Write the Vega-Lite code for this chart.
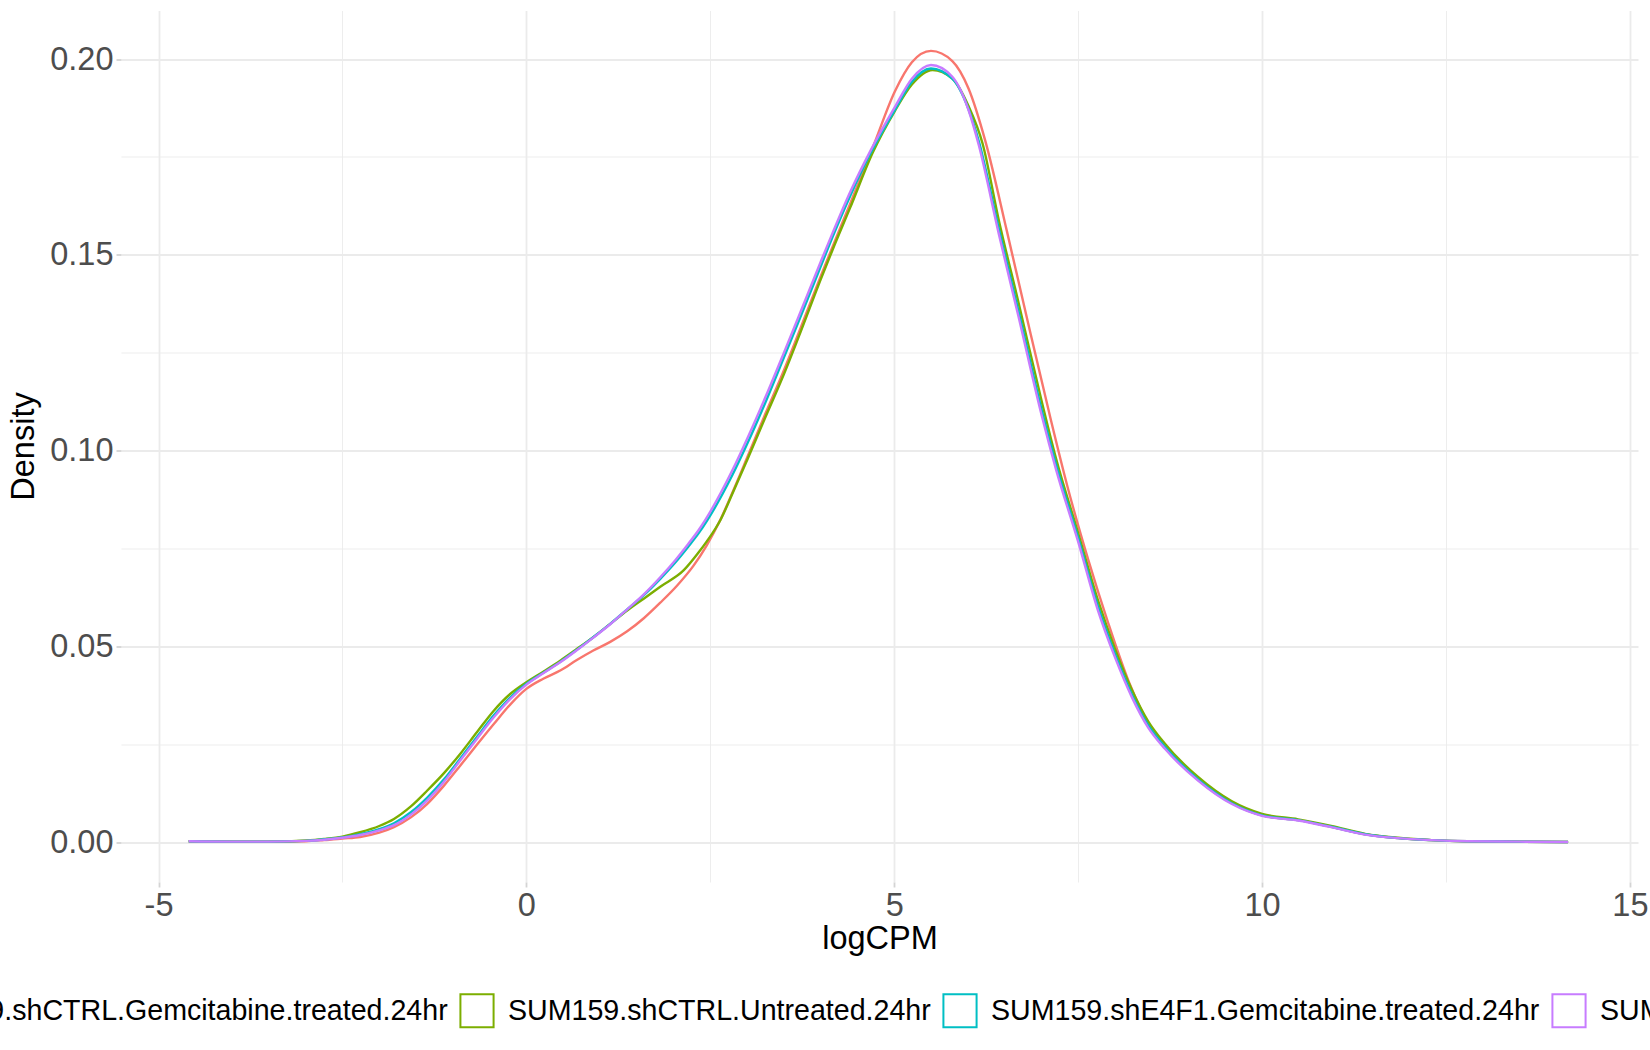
{
  "$schema": "https://vega.github.io/schema/vega-lite/v6.json",
  "width": 1517,
  "height": 871.5,
  "autosize": {"type": "none"},
  "padding": {"left": 121, "top": 10.5, "right": 12, "bottom": 168},
  "background": "white",
  "config": {
    "view": {"stroke": null},
    "font": "Liberation Sans"
  },
  "data": {
    "values": [
      {"sample": "SUM159.shCTRL.Gemcitabine.treated.24hr", "logCPM": -4.59, "density": 0.0003},
      {"sample": "SUM159.shCTRL.Gemcitabine.treated.24hr", "logCPM": -4.0, "density": 0.0002},
      {"sample": "SUM159.shCTRL.Gemcitabine.treated.24hr", "logCPM": -3.5, "density": 0.0002},
      {"sample": "SUM159.shCTRL.Gemcitabine.treated.24hr", "logCPM": -3.0, "density": 0.0003},
      {"sample": "SUM159.shCTRL.Gemcitabine.treated.24hr", "logCPM": -2.75, "density": 0.0006},
      {"sample": "SUM159.shCTRL.Gemcitabine.treated.24hr", "logCPM": -2.5, "density": 0.0010},
      {"sample": "SUM159.shCTRL.Gemcitabine.treated.24hr", "logCPM": -2.26, "density": 0.0014},
      {"sample": "SUM159.shCTRL.Gemcitabine.treated.24hr", "logCPM": -2.0, "density": 0.0025},
      {"sample": "SUM159.shCTRL.Gemcitabine.treated.24hr", "logCPM": -1.8, "density": 0.0039},
      {"sample": "SUM159.shCTRL.Gemcitabine.treated.24hr", "logCPM": -1.57, "density": 0.0064},
      {"sample": "SUM159.shCTRL.Gemcitabine.treated.24hr", "logCPM": -1.35, "density": 0.0098},
      {"sample": "SUM159.shCTRL.Gemcitabine.treated.24hr", "logCPM": -1.12, "density": 0.0145},
      {"sample": "SUM159.shCTRL.Gemcitabine.treated.24hr", "logCPM": -0.9, "density": 0.0196},
      {"sample": "SUM159.shCTRL.Gemcitabine.treated.24hr", "logCPM": -0.67, "density": 0.0250},
      {"sample": "SUM159.shCTRL.Gemcitabine.treated.24hr", "logCPM": -0.44, "density": 0.0303},
      {"sample": "SUM159.shCTRL.Gemcitabine.treated.24hr", "logCPM": -0.22, "density": 0.0352},
      {"sample": "SUM159.shCTRL.Gemcitabine.treated.24hr", "logCPM": 0.0, "density": 0.0392},
      {"sample": "SUM159.shCTRL.Gemcitabine.treated.24hr", "logCPM": 0.23, "density": 0.0418},
      {"sample": "SUM159.shCTRL.Gemcitabine.treated.24hr", "logCPM": 0.46, "density": 0.0439},
      {"sample": "SUM159.shCTRL.Gemcitabine.treated.24hr", "logCPM": 0.68, "density": 0.0465},
      {"sample": "SUM159.shCTRL.Gemcitabine.treated.24hr", "logCPM": 0.91, "density": 0.0490},
      {"sample": "SUM159.shCTRL.Gemcitabine.treated.24hr", "logCPM": 1.14, "density": 0.0512},
      {"sample": "SUM159.shCTRL.Gemcitabine.treated.24hr", "logCPM": 1.37, "density": 0.0539},
      {"sample": "SUM159.shCTRL.Gemcitabine.treated.24hr", "logCPM": 1.6, "density": 0.0573},
      {"sample": "SUM159.shCTRL.Gemcitabine.treated.24hr", "logCPM": 1.82, "density": 0.0612},
      {"sample": "SUM159.shCTRL.Gemcitabine.treated.24hr", "logCPM": 2.05, "density": 0.0656},
      {"sample": "SUM159.shCTRL.Gemcitabine.treated.24hr", "logCPM": 2.27, "density": 0.0706},
      {"sample": "SUM159.shCTRL.Gemcitabine.treated.24hr", "logCPM": 2.45, "density": 0.0758},
      {"sample": "SUM159.shCTRL.Gemcitabine.treated.24hr", "logCPM": 2.64, "density": 0.0825},
      {"sample": "SUM159.shCTRL.Gemcitabine.treated.24hr", "logCPM": 2.8, "density": 0.0893},
      {"sample": "SUM159.shCTRL.Gemcitabine.treated.24hr", "logCPM": 3.0, "density": 0.0982},
      {"sample": "SUM159.shCTRL.Gemcitabine.treated.24hr", "logCPM": 3.25, "density": 0.1095},
      {"sample": "SUM159.shCTRL.Gemcitabine.treated.24hr", "logCPM": 3.5, "density": 0.1205},
      {"sample": "SUM159.shCTRL.Gemcitabine.treated.24hr", "logCPM": 3.7, "density": 0.1300},
      {"sample": "SUM159.shCTRL.Gemcitabine.treated.24hr", "logCPM": 4.0, "density": 0.1445},
      {"sample": "SUM159.shCTRL.Gemcitabine.treated.24hr", "logCPM": 4.16, "density": 0.1520},
      {"sample": "SUM159.shCTRL.Gemcitabine.treated.24hr", "logCPM": 4.4, "density": 0.1630},
      {"sample": "SUM159.shCTRL.Gemcitabine.treated.24hr", "logCPM": 4.72, "density": 0.1780},
      {"sample": "SUM159.shCTRL.Gemcitabine.treated.24hr", "logCPM": 5.01, "density": 0.1918},
      {"sample": "SUM159.shCTRL.Gemcitabine.treated.24hr", "logCPM": 5.24, "density": 0.1992},
      {"sample": "SUM159.shCTRL.Gemcitabine.treated.24hr", "logCPM": 5.5, "density": 0.2021},
      {"sample": "SUM159.shCTRL.Gemcitabine.treated.24hr", "logCPM": 5.79, "density": 0.1995},
      {"sample": "SUM159.shCTRL.Gemcitabine.treated.24hr", "logCPM": 6.01, "density": 0.1925},
      {"sample": "SUM159.shCTRL.Gemcitabine.treated.24hr", "logCPM": 6.24, "density": 0.1790},
      {"sample": "SUM159.shCTRL.Gemcitabine.treated.24hr", "logCPM": 6.53, "density": 0.1562},
      {"sample": "SUM159.shCTRL.Gemcitabine.treated.24hr", "logCPM": 6.8, "density": 0.1342},
      {"sample": "SUM159.shCTRL.Gemcitabine.treated.24hr", "logCPM": 7.12, "density": 0.1086},
      {"sample": "SUM159.shCTRL.Gemcitabine.treated.24hr", "logCPM": 7.35, "density": 0.0912},
      {"sample": "SUM159.shCTRL.Gemcitabine.treated.24hr", "logCPM": 7.64, "density": 0.0720},
      {"sample": "SUM159.shCTRL.Gemcitabine.treated.24hr", "logCPM": 7.9, "density": 0.0565},
      {"sample": "SUM159.shCTRL.Gemcitabine.treated.24hr", "logCPM": 8.2, "density": 0.0405},
      {"sample": "SUM159.shCTRL.Gemcitabine.treated.24hr", "logCPM": 8.45, "density": 0.0305},
      {"sample": "SUM159.shCTRL.Gemcitabine.treated.24hr", "logCPM": 8.68, "density": 0.0246},
      {"sample": "SUM159.shCTRL.Gemcitabine.treated.24hr", "logCPM": 9.13, "density": 0.0160},
      {"sample": "SUM159.shCTRL.Gemcitabine.treated.24hr", "logCPM": 9.59, "density": 0.0100},
      {"sample": "SUM159.shCTRL.Gemcitabine.treated.24hr", "logCPM": 10.0, "density": 0.0069},
      {"sample": "SUM159.shCTRL.Gemcitabine.treated.24hr", "logCPM": 10.49, "density": 0.0057},
      {"sample": "SUM159.shCTRL.Gemcitabine.treated.24hr", "logCPM": 10.94, "density": 0.0040},
      {"sample": "SUM159.shCTRL.Gemcitabine.treated.24hr", "logCPM": 11.4, "density": 0.0021},
      {"sample": "SUM159.shCTRL.Gemcitabine.treated.24hr", "logCPM": 11.85, "density": 0.0011},
      {"sample": "SUM159.shCTRL.Gemcitabine.treated.24hr", "logCPM": 12.3, "density": 0.0006},
      {"sample": "SUM159.shCTRL.Gemcitabine.treated.24hr", "logCPM": 12.8, "density": 0.0003},
      {"sample": "SUM159.shCTRL.Gemcitabine.treated.24hr", "logCPM": 13.5, "density": 0.0002},
      {"sample": "SUM159.shCTRL.Gemcitabine.treated.24hr", "logCPM": 14.16, "density": 0.0001},

      {"sample": "SUM159.shCTRL.Untreated.24hr", "logCPM": -4.59, "density": 0.0003},
      {"sample": "SUM159.shCTRL.Untreated.24hr", "logCPM": -4.0, "density": 0.0002},
      {"sample": "SUM159.shCTRL.Untreated.24hr", "logCPM": -3.5, "density": 0.0002},
      {"sample": "SUM159.shCTRL.Untreated.24hr", "logCPM": -3.0, "density": 0.0005},
      {"sample": "SUM159.shCTRL.Untreated.24hr", "logCPM": -2.75, "density": 0.0009},
      {"sample": "SUM159.shCTRL.Untreated.24hr", "logCPM": -2.5, "density": 0.0015},
      {"sample": "SUM159.shCTRL.Untreated.24hr", "logCPM": -2.26, "density": 0.0026},
      {"sample": "SUM159.shCTRL.Untreated.24hr", "logCPM": -2.0, "density": 0.0042},
      {"sample": "SUM159.shCTRL.Untreated.24hr", "logCPM": -1.8, "density": 0.0060},
      {"sample": "SUM159.shCTRL.Untreated.24hr", "logCPM": -1.57, "density": 0.0092},
      {"sample": "SUM159.shCTRL.Untreated.24hr", "logCPM": -1.35, "density": 0.0132},
      {"sample": "SUM159.shCTRL.Untreated.24hr", "logCPM": -1.12, "density": 0.0177},
      {"sample": "SUM159.shCTRL.Untreated.24hr", "logCPM": -0.9, "density": 0.0226},
      {"sample": "SUM159.shCTRL.Untreated.24hr", "logCPM": -0.67, "density": 0.0282},
      {"sample": "SUM159.shCTRL.Untreated.24hr", "logCPM": -0.44, "density": 0.0337},
      {"sample": "SUM159.shCTRL.Untreated.24hr", "logCPM": -0.22, "density": 0.0379},
      {"sample": "SUM159.shCTRL.Untreated.24hr", "logCPM": 0.0, "density": 0.0409},
      {"sample": "SUM159.shCTRL.Untreated.24hr", "logCPM": 0.23, "density": 0.0436},
      {"sample": "SUM159.shCTRL.Untreated.24hr", "logCPM": 0.46, "density": 0.0464},
      {"sample": "SUM159.shCTRL.Untreated.24hr", "logCPM": 0.68, "density": 0.0493},
      {"sample": "SUM159.shCTRL.Untreated.24hr", "logCPM": 0.91, "density": 0.0524},
      {"sample": "SUM159.shCTRL.Untreated.24hr", "logCPM": 1.14, "density": 0.0558},
      {"sample": "SUM159.shCTRL.Untreated.24hr", "logCPM": 1.37, "density": 0.0592},
      {"sample": "SUM159.shCTRL.Untreated.24hr", "logCPM": 1.6, "density": 0.0623},
      {"sample": "SUM159.shCTRL.Untreated.24hr", "logCPM": 1.82, "density": 0.0653},
      {"sample": "SUM159.shCTRL.Untreated.24hr", "logCPM": 2.14, "density": 0.0695},
      {"sample": "SUM159.shCTRL.Untreated.24hr", "logCPM": 2.34, "density": 0.0740},
      {"sample": "SUM159.shCTRL.Untreated.24hr", "logCPM": 2.45, "density": 0.0768},
      {"sample": "SUM159.shCTRL.Untreated.24hr", "logCPM": 2.64, "density": 0.0824},
      {"sample": "SUM159.shCTRL.Untreated.24hr", "logCPM": 2.8, "density": 0.0890},
      {"sample": "SUM159.shCTRL.Untreated.24hr", "logCPM": 3.0, "density": 0.0976},
      {"sample": "SUM159.shCTRL.Untreated.24hr", "logCPM": 3.25, "density": 0.1086},
      {"sample": "SUM159.shCTRL.Untreated.24hr", "logCPM": 3.5, "density": 0.1195},
      {"sample": "SUM159.shCTRL.Untreated.24hr", "logCPM": 3.7, "density": 0.1290},
      {"sample": "SUM159.shCTRL.Untreated.24hr", "logCPM": 4.0, "density": 0.1437},
      {"sample": "SUM159.shCTRL.Untreated.24hr", "logCPM": 4.16, "density": 0.1512},
      {"sample": "SUM159.shCTRL.Untreated.24hr", "logCPM": 4.4, "density": 0.1620},
      {"sample": "SUM159.shCTRL.Untreated.24hr", "logCPM": 4.71, "density": 0.1762},
      {"sample": "SUM159.shCTRL.Untreated.24hr", "logCPM": 5.01, "density": 0.1868},
      {"sample": "SUM159.shCTRL.Untreated.24hr", "logCPM": 5.24, "density": 0.1935},
      {"sample": "SUM159.shCTRL.Untreated.24hr", "logCPM": 5.52, "density": 0.1972},
      {"sample": "SUM159.shCTRL.Untreated.24hr", "logCPM": 5.79, "density": 0.1950},
      {"sample": "SUM159.shCTRL.Untreated.24hr", "logCPM": 6.01, "density": 0.1880},
      {"sample": "SUM159.shCTRL.Untreated.24hr", "logCPM": 6.2, "density": 0.1785},
      {"sample": "SUM159.shCTRL.Untreated.24hr", "logCPM": 6.42, "density": 0.1590},
      {"sample": "SUM159.shCTRL.Untreated.24hr", "logCPM": 6.69, "density": 0.1378},
      {"sample": "SUM159.shCTRL.Untreated.24hr", "logCPM": 7.01, "density": 0.1122},
      {"sample": "SUM159.shCTRL.Untreated.24hr", "logCPM": 7.2, "density": 0.0980},
      {"sample": "SUM159.shCTRL.Untreated.24hr", "logCPM": 7.5, "density": 0.0790},
      {"sample": "SUM159.shCTRL.Untreated.24hr", "logCPM": 7.77, "density": 0.0618},
      {"sample": "SUM159.shCTRL.Untreated.24hr", "logCPM": 8.0, "density": 0.0495},
      {"sample": "SUM159.shCTRL.Untreated.24hr", "logCPM": 8.23, "density": 0.0390},
      {"sample": "SUM159.shCTRL.Untreated.24hr", "logCPM": 8.45, "density": 0.0310},
      {"sample": "SUM159.shCTRL.Untreated.24hr", "logCPM": 8.68, "density": 0.0252},
      {"sample": "SUM159.shCTRL.Untreated.24hr", "logCPM": 9.13, "density": 0.0167},
      {"sample": "SUM159.shCTRL.Untreated.24hr", "logCPM": 9.59, "density": 0.0105},
      {"sample": "SUM159.shCTRL.Untreated.24hr", "logCPM": 10.0, "density": 0.0073},
      {"sample": "SUM159.shCTRL.Untreated.24hr", "logCPM": 10.49, "density": 0.0059},
      {"sample": "SUM159.shCTRL.Untreated.24hr", "logCPM": 10.94, "density": 0.0042},
      {"sample": "SUM159.shCTRL.Untreated.24hr", "logCPM": 11.4, "density": 0.0022},
      {"sample": "SUM159.shCTRL.Untreated.24hr", "logCPM": 11.85, "density": 0.0012},
      {"sample": "SUM159.shCTRL.Untreated.24hr", "logCPM": 12.3, "density": 0.0006},
      {"sample": "SUM159.shCTRL.Untreated.24hr", "logCPM": 12.8, "density": 0.0003},
      {"sample": "SUM159.shCTRL.Untreated.24hr", "logCPM": 13.5, "density": 0.0002},
      {"sample": "SUM159.shCTRL.Untreated.24hr", "logCPM": 14.16, "density": 0.0001},

      {"sample": "SUM159.shE4F1.Gemcitabine.treated.24hr", "logCPM": -4.59, "density": 0.0003},
      {"sample": "SUM159.shE4F1.Gemcitabine.treated.24hr", "logCPM": -4.0, "density": 0.0002},
      {"sample": "SUM159.shE4F1.Gemcitabine.treated.24hr", "logCPM": -3.5, "density": 0.0002},
      {"sample": "SUM159.shE4F1.Gemcitabine.treated.24hr", "logCPM": -3.0, "density": 0.0004},
      {"sample": "SUM159.shE4F1.Gemcitabine.treated.24hr", "logCPM": -2.75, "density": 0.0008},
      {"sample": "SUM159.shE4F1.Gemcitabine.treated.24hr", "logCPM": -2.5, "density": 0.0013},
      {"sample": "SUM159.shE4F1.Gemcitabine.treated.24hr", "logCPM": -2.26, "density": 0.0021},
      {"sample": "SUM159.shE4F1.Gemcitabine.treated.24hr", "logCPM": -2.0, "density": 0.0034},
      {"sample": "SUM159.shE4F1.Gemcitabine.treated.24hr", "logCPM": -1.8, "density": 0.0049},
      {"sample": "SUM159.shE4F1.Gemcitabine.treated.24hr", "logCPM": -1.57, "density": 0.0077},
      {"sample": "SUM159.shE4F1.Gemcitabine.treated.24hr", "logCPM": -1.35, "density": 0.0114},
      {"sample": "SUM159.shE4F1.Gemcitabine.treated.24hr", "logCPM": -1.12, "density": 0.0161},
      {"sample": "SUM159.shE4F1.Gemcitabine.treated.24hr", "logCPM": -0.9, "density": 0.0214},
      {"sample": "SUM159.shE4F1.Gemcitabine.treated.24hr", "logCPM": -0.67, "density": 0.0270},
      {"sample": "SUM159.shE4F1.Gemcitabine.treated.24hr", "logCPM": -0.44, "density": 0.0325},
      {"sample": "SUM159.shE4F1.Gemcitabine.treated.24hr", "logCPM": -0.22, "density": 0.0370},
      {"sample": "SUM159.shE4F1.Gemcitabine.treated.24hr", "logCPM": 0.0, "density": 0.0405},
      {"sample": "SUM159.shE4F1.Gemcitabine.treated.24hr", "logCPM": 0.23, "density": 0.0433},
      {"sample": "SUM159.shE4F1.Gemcitabine.treated.24hr", "logCPM": 0.46, "density": 0.0461},
      {"sample": "SUM159.shE4F1.Gemcitabine.treated.24hr", "logCPM": 0.68, "density": 0.0491},
      {"sample": "SUM159.shE4F1.Gemcitabine.treated.24hr", "logCPM": 0.91, "density": 0.0524},
      {"sample": "SUM159.shE4F1.Gemcitabine.treated.24hr", "logCPM": 1.14, "density": 0.0558},
      {"sample": "SUM159.shE4F1.Gemcitabine.treated.24hr", "logCPM": 1.37, "density": 0.0595},
      {"sample": "SUM159.shE4F1.Gemcitabine.treated.24hr", "logCPM": 1.6, "density": 0.0632},
      {"sample": "SUM159.shE4F1.Gemcitabine.treated.24hr", "logCPM": 1.82, "density": 0.0673},
      {"sample": "SUM159.shE4F1.Gemcitabine.treated.24hr", "logCPM": 2.03, "density": 0.0716},
      {"sample": "SUM159.shE4F1.Gemcitabine.treated.24hr", "logCPM": 2.2, "density": 0.0755},
      {"sample": "SUM159.shE4F1.Gemcitabine.treated.24hr", "logCPM": 2.34, "density": 0.0789},
      {"sample": "SUM159.shE4F1.Gemcitabine.treated.24hr", "logCPM": 2.8, "density": 0.0938},
      {"sample": "SUM159.shE4F1.Gemcitabine.treated.24hr", "logCPM": 3.0, "density": 0.1017},
      {"sample": "SUM159.shE4F1.Gemcitabine.treated.24hr", "logCPM": 3.25, "density": 0.1124},
      {"sample": "SUM159.shE4F1.Gemcitabine.treated.24hr", "logCPM": 3.5, "density": 0.1238},
      {"sample": "SUM159.shE4F1.Gemcitabine.treated.24hr", "logCPM": 3.7, "density": 0.1330},
      {"sample": "SUM159.shE4F1.Gemcitabine.treated.24hr", "logCPM": 4.0, "density": 0.1470},
      {"sample": "SUM159.shE4F1.Gemcitabine.treated.24hr", "logCPM": 4.16, "density": 0.1545},
      {"sample": "SUM159.shE4F1.Gemcitabine.treated.24hr", "logCPM": 4.4, "density": 0.1650},
      {"sample": "SUM159.shE4F1.Gemcitabine.treated.24hr", "logCPM": 4.68, "density": 0.1760},
      {"sample": "SUM159.shE4F1.Gemcitabine.treated.24hr", "logCPM": 5.01, "density": 0.1870},
      {"sample": "SUM159.shE4F1.Gemcitabine.treated.24hr", "logCPM": 5.24, "density": 0.1942},
      {"sample": "SUM159.shE4F1.Gemcitabine.treated.24hr", "logCPM": 5.5, "density": 0.1976},
      {"sample": "SUM159.shE4F1.Gemcitabine.treated.24hr", "logCPM": 5.79, "density": 0.1950},
      {"sample": "SUM159.shE4F1.Gemcitabine.treated.24hr", "logCPM": 6.01, "density": 0.1872},
      {"sample": "SUM159.shE4F1.Gemcitabine.treated.24hr", "logCPM": 6.15, "density": 0.1790},
      {"sample": "SUM159.shE4F1.Gemcitabine.treated.24hr", "logCPM": 6.42, "density": 0.1568},
      {"sample": "SUM159.shE4F1.Gemcitabine.treated.24hr", "logCPM": 6.69, "density": 0.1356},
      {"sample": "SUM159.shE4F1.Gemcitabine.treated.24hr", "logCPM": 7.01, "density": 0.1100},
      {"sample": "SUM159.shE4F1.Gemcitabine.treated.24hr", "logCPM": 7.2, "density": 0.0965},
      {"sample": "SUM159.shE4F1.Gemcitabine.treated.24hr", "logCPM": 7.5, "density": 0.0778},
      {"sample": "SUM159.shE4F1.Gemcitabine.treated.24hr", "logCPM": 7.77, "density": 0.0603},
      {"sample": "SUM159.shE4F1.Gemcitabine.treated.24hr", "logCPM": 8.0, "density": 0.0482},
      {"sample": "SUM159.shE4F1.Gemcitabine.treated.24hr", "logCPM": 8.23, "density": 0.0378},
      {"sample": "SUM159.shE4F1.Gemcitabine.treated.24hr", "logCPM": 8.45, "density": 0.0300},
      {"sample": "SUM159.shE4F1.Gemcitabine.treated.24hr", "logCPM": 8.68, "density": 0.0244},
      {"sample": "SUM159.shE4F1.Gemcitabine.treated.24hr", "logCPM": 9.13, "density": 0.0161},
      {"sample": "SUM159.shE4F1.Gemcitabine.treated.24hr", "logCPM": 9.59, "density": 0.0100},
      {"sample": "SUM159.shE4F1.Gemcitabine.treated.24hr", "logCPM": 10.0, "density": 0.0069},
      {"sample": "SUM159.shE4F1.Gemcitabine.treated.24hr", "logCPM": 10.49, "density": 0.0057},
      {"sample": "SUM159.shE4F1.Gemcitabine.treated.24hr", "logCPM": 10.94, "density": 0.0040},
      {"sample": "SUM159.shE4F1.Gemcitabine.treated.24hr", "logCPM": 11.4, "density": 0.0021},
      {"sample": "SUM159.shE4F1.Gemcitabine.treated.24hr", "logCPM": 11.85, "density": 0.0011},
      {"sample": "SUM159.shE4F1.Gemcitabine.treated.24hr", "logCPM": 12.3, "density": 0.0006},
      {"sample": "SUM159.shE4F1.Gemcitabine.treated.24hr", "logCPM": 12.8, "density": 0.0003},
      {"sample": "SUM159.shE4F1.Gemcitabine.treated.24hr", "logCPM": 13.5, "density": 0.0002},
      {"sample": "SUM159.shE4F1.Gemcitabine.treated.24hr", "logCPM": 14.16, "density": 0.0001},

      {"sample": "SUM159.shE4F1.Untreated.24hr", "logCPM": -4.59, "density": 0.0003},
      {"sample": "SUM159.shE4F1.Untreated.24hr", "logCPM": -4.0, "density": 0.0002},
      {"sample": "SUM159.shE4F1.Untreated.24hr", "logCPM": -3.5, "density": 0.0002},
      {"sample": "SUM159.shE4F1.Untreated.24hr", "logCPM": -3.0, "density": 0.0004},
      {"sample": "SUM159.shE4F1.Untreated.24hr", "logCPM": -2.75, "density": 0.0007},
      {"sample": "SUM159.shE4F1.Untreated.24hr", "logCPM": -2.5, "density": 0.0012},
      {"sample": "SUM159.shE4F1.Untreated.24hr", "logCPM": -2.26, "density": 0.0019},
      {"sample": "SUM159.shE4F1.Untreated.24hr", "logCPM": -2.0, "density": 0.0031},
      {"sample": "SUM159.shE4F1.Untreated.24hr", "logCPM": -1.8, "density": 0.0044},
      {"sample": "SUM159.shE4F1.Untreated.24hr", "logCPM": -1.57, "density": 0.0071},
      {"sample": "SUM159.shE4F1.Untreated.24hr", "logCPM": -1.35, "density": 0.0107},
      {"sample": "SUM159.shE4F1.Untreated.24hr", "logCPM": -1.12, "density": 0.0155},
      {"sample": "SUM159.shE4F1.Untreated.24hr", "logCPM": -0.9, "density": 0.0209},
      {"sample": "SUM159.shE4F1.Untreated.24hr", "logCPM": -0.67, "density": 0.0265},
      {"sample": "SUM159.shE4F1.Untreated.24hr", "logCPM": -0.44, "density": 0.0320},
      {"sample": "SUM159.shE4F1.Untreated.24hr", "logCPM": -0.22, "density": 0.0366},
      {"sample": "SUM159.shE4F1.Untreated.24hr", "logCPM": 0.0, "density": 0.0403},
      {"sample": "SUM159.shE4F1.Untreated.24hr", "logCPM": 0.23, "density": 0.0432},
      {"sample": "SUM159.shE4F1.Untreated.24hr", "logCPM": 0.46, "density": 0.0460},
      {"sample": "SUM159.shE4F1.Untreated.24hr", "logCPM": 0.68, "density": 0.0490},
      {"sample": "SUM159.shE4F1.Untreated.24hr", "logCPM": 0.91, "density": 0.0523},
      {"sample": "SUM159.shE4F1.Untreated.24hr", "logCPM": 1.14, "density": 0.0557},
      {"sample": "SUM159.shE4F1.Untreated.24hr", "logCPM": 1.37, "density": 0.0595},
      {"sample": "SUM159.shE4F1.Untreated.24hr", "logCPM": 1.6, "density": 0.0634},
      {"sample": "SUM159.shE4F1.Untreated.24hr", "logCPM": 1.82, "density": 0.0677},
      {"sample": "SUM159.shE4F1.Untreated.24hr", "logCPM": 2.03, "density": 0.0722},
      {"sample": "SUM159.shE4F1.Untreated.24hr", "logCPM": 2.2, "density": 0.0762},
      {"sample": "SUM159.shE4F1.Untreated.24hr", "logCPM": 2.34, "density": 0.0797},
      {"sample": "SUM159.shE4F1.Untreated.24hr", "logCPM": 2.8, "density": 0.0950},
      {"sample": "SUM159.shE4F1.Untreated.24hr", "logCPM": 3.0, "density": 0.1030},
      {"sample": "SUM159.shE4F1.Untreated.24hr", "logCPM": 3.25, "density": 0.1137},
      {"sample": "SUM159.shE4F1.Untreated.24hr", "logCPM": 3.5, "density": 0.1250},
      {"sample": "SUM159.shE4F1.Untreated.24hr", "logCPM": 3.7, "density": 0.1342},
      {"sample": "SUM159.shE4F1.Untreated.24hr", "logCPM": 4.0, "density": 0.1482},
      {"sample": "SUM159.shE4F1.Untreated.24hr", "logCPM": 4.16, "density": 0.1555},
      {"sample": "SUM159.shE4F1.Untreated.24hr", "logCPM": 4.4, "density": 0.1660},
      {"sample": "SUM159.shE4F1.Untreated.24hr", "logCPM": 4.68, "density": 0.1767},
      {"sample": "SUM159.shE4F1.Untreated.24hr", "logCPM": 5.01, "density": 0.1878},
      {"sample": "SUM159.shE4F1.Untreated.24hr", "logCPM": 5.24, "density": 0.1950},
      {"sample": "SUM159.shE4F1.Untreated.24hr", "logCPM": 5.5, "density": 0.1985},
      {"sample": "SUM159.shE4F1.Untreated.24hr", "logCPM": 5.79, "density": 0.1955},
      {"sample": "SUM159.shE4F1.Untreated.24hr", "logCPM": 6.01, "density": 0.1870},
      {"sample": "SUM159.shE4F1.Untreated.24hr", "logCPM": 6.15, "density": 0.1780},
      {"sample": "SUM159.shE4F1.Untreated.24hr", "logCPM": 6.42, "density": 0.1555},
      {"sample": "SUM159.shE4F1.Untreated.24hr", "logCPM": 6.69, "density": 0.1342},
      {"sample": "SUM159.shE4F1.Untreated.24hr", "logCPM": 7.01, "density": 0.1086},
      {"sample": "SUM159.shE4F1.Untreated.24hr", "logCPM": 7.2, "density": 0.0952},
      {"sample": "SUM159.shE4F1.Untreated.24hr", "logCPM": 7.5, "density": 0.0768},
      {"sample": "SUM159.shE4F1.Untreated.24hr", "logCPM": 7.77, "density": 0.0592},
      {"sample": "SUM159.shE4F1.Untreated.24hr", "logCPM": 8.0, "density": 0.0473},
      {"sample": "SUM159.shE4F1.Untreated.24hr", "logCPM": 8.23, "density": 0.0371},
      {"sample": "SUM159.shE4F1.Untreated.24hr", "logCPM": 8.45, "density": 0.0294},
      {"sample": "SUM159.shE4F1.Untreated.24hr", "logCPM": 8.68, "density": 0.0239},
      {"sample": "SUM159.shE4F1.Untreated.24hr", "logCPM": 9.13, "density": 0.0158},
      {"sample": "SUM159.shE4F1.Untreated.24hr", "logCPM": 9.59, "density": 0.0098},
      {"sample": "SUM159.shE4F1.Untreated.24hr", "logCPM": 10.0, "density": 0.0068},
      {"sample": "SUM159.shE4F1.Untreated.24hr", "logCPM": 10.49, "density": 0.0056},
      {"sample": "SUM159.shE4F1.Untreated.24hr", "logCPM": 10.94, "density": 0.0039},
      {"sample": "SUM159.shE4F1.Untreated.24hr", "logCPM": 11.4, "density": 0.0020},
      {"sample": "SUM159.shE4F1.Untreated.24hr", "logCPM": 11.85, "density": 0.0011},
      {"sample": "SUM159.shE4F1.Untreated.24hr", "logCPM": 12.3, "density": 0.0006},
      {"sample": "SUM159.shE4F1.Untreated.24hr", "logCPM": 12.8, "density": 0.0003},
      {"sample": "SUM159.shE4F1.Untreated.24hr", "logCPM": 13.5, "density": 0.0002},
      {"sample": "SUM159.shE4F1.Untreated.24hr", "logCPM": 14.16, "density": 0.0001}
    ]
  },
  "mark": {"type": "line", "interpolate": "monotone", "strokeWidth": 2.4},
  "encoding": {
    "x": {
      "field": "logCPM",
      "type": "quantitative",
      "scale": {"domain": [-5.51, 15.11], "nice": false, "zero": false},
      "axis": {
        "title": "logCPM",
        "values": [-5, -2.5, 0, 2.5, 5, 7.5, 10, 12.5, 15],
        "labelExpr": "round(datum.value * 10) % 50 === 0 ? toString(datum.value) : ''",
        "labelOverlap": false,
        "labelFlush": false,
        "labelBound": false,
        "labelFont": "Liberation Sans",
        "labelFontSize": 32.5,
        "labelColor": "#4D4D4D",
        "labelPadding": 2,
        "domain": false,
        "grid": true,
        "gridColor": "#EBEBEB",
        "gridWidth": {"condition": {"test": "round(datum.value * 10) % 50 === 0", "value": 1.8}, "value": 0.9},
        "ticks": true,
        "tickSize": 5,
        "tickColor": "#D4D4D4",
        "tickWidth": 1.8,
        "tickOpacity": {"condition": {"test": "round(datum.value * 10) % 50 === 0", "value": 1}, "value": 0},
        "titleFont": "Liberation Sans",
        "titleFontSize": 32.5,
        "titleFontWeight": "normal",
        "titleColor": "black",
        "titleBaseline": "alphabetic",
        "titleY": 66.3
      }
    },
    "y": {
      "field": "density",
      "type": "quantitative",
      "scale": {"domain": [-0.0101, 0.2124], "nice": false, "zero": false},
      "axis": {
        "title": "Density",
        "values": [0, 0.025, 0.05, 0.075, 0.1, 0.125, 0.15, 0.175, 0.2],
        "format": ".2f",
        "labelExpr": "round(datum.value * 1000) % 50 === 0 ? datum.label : ''",
        "labelOverlap": false,
        "labelFlush": false,
        "labelBound": false,
        "labelFont": "Liberation Sans",
        "labelFontSize": 32.5,
        "labelColor": "#4D4D4D",
        "labelPadding": 3,
        "domain": false,
        "grid": true,
        "gridColor": "#EBEBEB",
        "gridWidth": {"condition": {"test": "round(datum.value * 1000) % 50 === 0", "value": 1.8}, "value": 0.9},
        "ticks": true,
        "tickSize": 5,
        "tickColor": "#D4D4D4",
        "tickWidth": 1.8,
        "tickOpacity": {"condition": {"test": "round(datum.value * 1000) % 50 === 0", "value": 1}, "value": 0},
        "titleFont": "Liberation Sans",
        "titleFontSize": 32.5,
        "titleFontWeight": "normal",
        "titleColor": "black",
        "titleAngle": 270,
        "titleBaseline": "alphabetic",
        "titleAlign": "center",
        "titleX": -87.7,
        "titleY": 435.5
      }
    },
    "color": {
      "field": "sample",
      "type": "nominal",
      "scale": {
        "domain": [
          "SUM159.shCTRL.Gemcitabine.treated.24hr",
          "SUM159.shCTRL.Untreated.24hr",
          "SUM159.shE4F1.Gemcitabine.treated.24hr",
          "SUM159.shE4F1.Untreated.24hr"
        ],
        "range": ["#F8766D", "#7CAE00", "#00BFC4", "#C77CFF"]
      },
      "legend": {
        "title": null,
        "orient": "none",
        "legendX": -277,
        "legendY": 982,
        "direction": "horizontal",
        "columns": 4,
        "padding": 0,
        "symbolType": "square",
        "symbolSize": 1100,
        "symbolStrokeWidth": 2,
        "symbolFillColor": "white",
        "labelFont": "Liberation Sans",
        "labelFontSize": 28.6,
        "labelColor": "black",
        "labelOffset": 13,
        "labelLimit": 1000,
        "columnPadding": 8
      }
    }
  }
}
